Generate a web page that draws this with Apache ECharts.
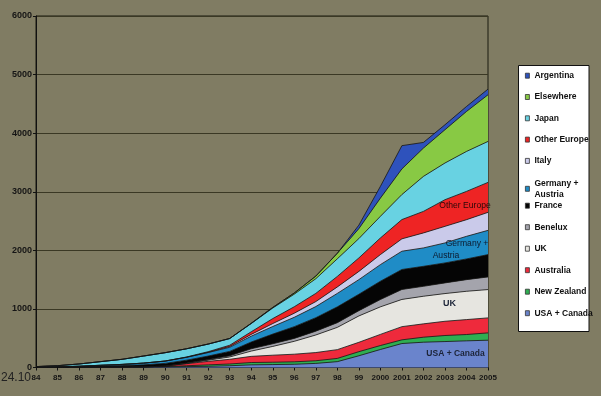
<!DOCTYPE html>
<html><head><meta charset="utf-8">
<script src="https://cdn.jsdelivr.net/npm/echarts@6/dist/echarts.min.js"></script>
<style>html,body{margin:0;padding:0;background:#807c63}#c{width:601px;height:396px}</style>
</head><body><div id="c"></div>
<script>
const years = ['84','85','86','87','88','89','90','91','92','93','94','95','96','97','98','99','2000','2001','2002','2003','2004','2005'];
const yMin = 0, yMax = 6000, yStep = 1000;

const usaCanada    = [1,2,4,6,8,10,10,15,20,30,45,50,55,70,100,200,307,409,432,443,455,466];
const newZealand   = [0,0,0,0,0,0,5,15,25,30,40,40,42,45,55,70,68,63,85,103,108,125];
const australia    = [0,0,0,0,0,0,10,35,60,80,105,120,130,140,150,160,190,225,228,243,255,256];
const uk           = [0,0,0,0,0,0,0,5,20,40,90,150,220,300,380,450,470,465,471,473,483,483];
const benelux      = [0,0,0,0,0,0,0,5,10,20,40,45,50,65,80,90,125,170,170,182,199,216];
const france       = [2,5,10,18,25,35,45,50,60,75,115,165,200,230,270,280,312,341,341,341,353,381];
const germanyAustria = [2,4,8,14,20,30,40,50,60,70,100,130,160,190,230,250,284,312,314,341,386,414];
const italy        = [0,0,0,0,0,0,0,0,5,15,30,50,70,85,110,140,171,211,256,283,284,307];
const otherEurope  = [0,0,0,0,0,0,0,5,10,20,45,85,110,140,180,230,284,329,368,455,483,512];
const japan        = [10,20,38,62,87,121,143,140,130,115,140,180,215,250,300,330,369,427,597,626,682,699];
const elsewhere    = [0,0,0,0,0,0,0,0,0,0,5,10,20,45,95,170,311,438,483,568,682,796];
const argentina    = [0,0,0,0,0,0,0,0,0,0,0,0,0,0,0,60,200,397,97,85,85,97];

const seriesDefs = [
  ['USA + Canada', usaCanada, '#6a84cc'],
  ['New Zealand', newZealand, '#2fae52'],
  ['Australia', australia, '#ee2a3c'],
  ['UK', uk, '#e6e5e0'],
  ['Benelux', benelux, '#a4a4ac'],
  ['France', france, '#050505'],
  ['Germany + Austria', germanyAustria, '#1f8cc6'],
  ['Italy', italy, '#cacaea'],
  ['Other Europe', otherEurope, '#ee2424'],
  ['Japan', japan, '#68d2e2'],
  ['Elsewhere', elsewhere, '#88c944'],
  ['Argentina', argentina, '#2e52bc']
];

const font = 'Liberation Sans, Arial, sans-serif';
const chart = echarts.init(document.getElementById('c'));
const legendText = {fontSize: 8.5, fontWeight: 'bold', color: '#111', fontFamily: font, lineHeight: 12};
function mkLegend(data, top, gap, extra) {
  return Object.assign({
    data: data, orient: 'vertical', left: 525, top: top, itemGap: gap, padding: 0,
    icon: 'rect', itemWidth: 4, itemHeight: 5,
    itemStyle: {borderColor: '#333', borderWidth: 0.8},
    textStyle: Object.assign({}, legendText), selectedMode: false,
    formatter: n => n === 'Germany + Austria' ? 'Germany +\nAustria' : n
  }, extra || {});
}
chart.setOption({
  backgroundColor: '#807c63',
  animation: false,
  grid: {left: 36, right: 113, top: 16, bottom: 28.5, show: true, borderColor: '#1a1a10', borderWidth: 1},
  xAxis: {
    type: 'category', data: years, boundaryGap: false,
    axisLine: {lineStyle: {color: '#111', width: 1}},
    axisTick: {show: true, length: 3, lineStyle: {color: '#111'}},
    axisLabel: {interval: 0, fontSize: 8, fontWeight: 'bold', color: '#151515', margin: 6, fontFamily: font}
  },
  yAxis: {
    type: 'value', min: yMin, max: yMax, interval: yStep,
    axisLine: {show: true, lineStyle: {color: '#111', width: 1}},
    axisTick: {show: true, length: 3, lineStyle: {color: '#111'}},
    splitLine: {lineStyle: {color: '#3a3824', width: 1}},
    axisLabel: {fontSize: 9, fontWeight: 'bold', color: '#151515', margin: 4, fontFamily: font, formatter: v => String(v)}
  },
  legend: [
    mkLegend(['Argentina','Elsewhere','Japan','Other Europe','Italy'], 69.7, 9.3),
    mkLegend(['Germany + Austria'], 177.8, 0, {textStyle: Object.assign({}, legendText, {lineHeight: 11})}),
    mkLegend(['France','Benelux','UK','Australia','New Zealand','USA + Canada'], 199.7, 9.5)
  ],
  graphic: [
    {type: 'rect', z: -1, shape: {x: 518.5, y: 65.5, width: 70.5, height: 266}, style: {fill: '#fff', stroke: '#111', lineWidth: 1}},
    {type: 'text', left: 1, top: 372, style: {text: '24.10', font: '12px ' + font, fill: '#222'}},
    {type: 'text', x: 465, y: 206, z: 50, style: {text: 'Other Europe', font: '8.6px ' + font, fill: '#2a0808', align: 'center', verticalAlign: 'middle'}},
    {type: 'text', x: 467, y: 244, z: 50, style: {text: 'Germany +', font: '8.6px ' + font, fill: '#0d1a2e', align: 'center', verticalAlign: 'middle'}},
    {type: 'text', x: 446, y: 255.5, z: 50, style: {text: 'Austria', font: '8.6px ' + font, fill: '#0d1a2e', align: 'center', verticalAlign: 'middle'}},
    {type: 'text', x: 449.5, y: 304, z: 50, style: {text: 'UK', font: 'bold 9px ' + font, fill: '#1c2438', align: 'center', verticalAlign: 'middle'}},
    {type: 'text', x: 455.5, y: 353.5, z: 50, style: {text: 'USA + Canada', font: 'bold 8.5px ' + font, fill: '#1c2438', align: 'center', verticalAlign: 'middle'}}
  ],
  series: seriesDefs.map(([name, data, color]) => ({
    name: name, type: 'line', stack: 'total', data: data,
    symbol: 'none', smooth: false,
    itemStyle: {color: color},
    lineStyle: {color: '#151515', width: 0.8},
    areaStyle: {color: color, opacity: 1}
  }))
});
</script></body></html>
